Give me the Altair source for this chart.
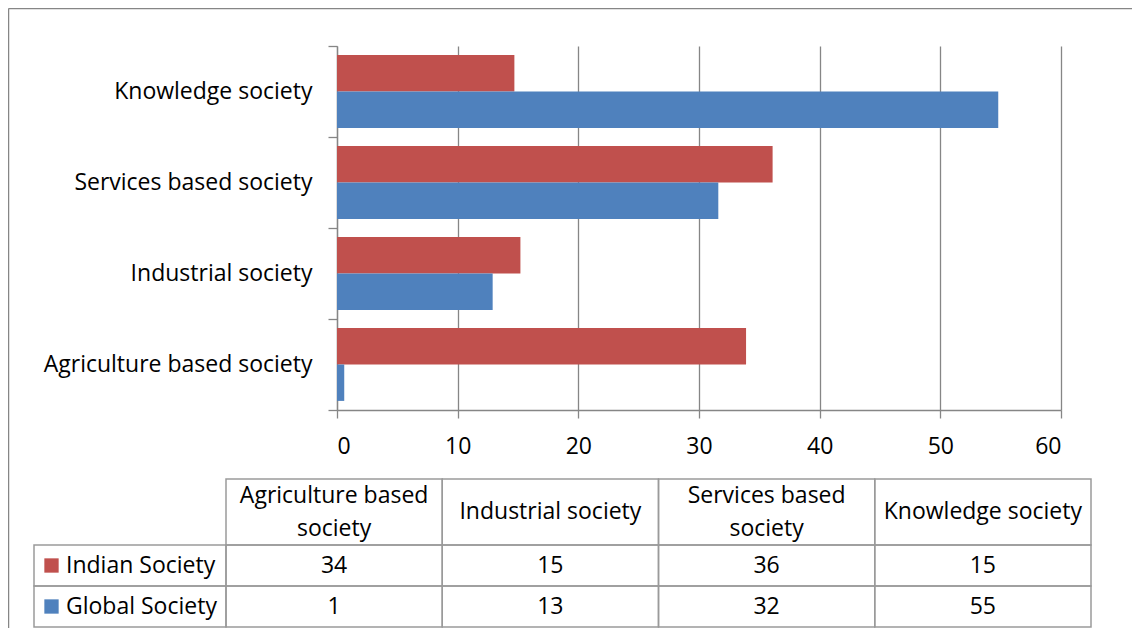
import altair as alt
import pandas as pd

categories = ["Agriculture based society", "Industrial society",
              "Services based society", "Knowledge society"]
header_labels = ["Agriculture based\nsociety", "Industrial society",
                 "Services based\nsociety", "Knowledge society"]
series = ["Indian Society", "Global Society"]
indian = [33.9, 15.2, 36.1, 14.7]
global_soc = [0.6, 12.9, 31.6, 54.8]
x_ticks = [0, 10, 20, 30, 40, 50, 60]
colors = ["#C0504D", "#4F81BD"]

FONT = "Open Sans"
FS = 23
GRID = "#868686"
TB = "#9a9a9a"

rows = []
for i, c in enumerate(categories):
    rows.append({"category": c, "series": series[0], "value": indian[i]})
    rows.append({"category": c, "series": series[1], "value": global_soc[i]})
df = pd.DataFrame(rows)
df_cat = pd.DataFrame({"category": categories, "header": header_labels})
df_ser = pd.DataFrame({"series": series})
df_one = pd.DataFrame({"a": [0]})

color_enc = alt.Color("series:N", sort=series,
                      scale=alt.Scale(domain=series, range=colors), legend=None)

bars = alt.Chart(df).mark_bar().encode(
    x=alt.X("value:Q", scale=alt.Scale(domain=[0, 60], nice=False, zero=True),
            axis=alt.Axis(values=x_ticks, title=None, grid=True, gridColor=GRID,
                          gridWidth=1.3, domainColor=GRID, domainWidth=1.3,
                          tickColor=GRID, tickWidth=1.3, tickSize=8,
                          labelPadding=17, labelFont=FONT, labelFontSize=FS,
                          labelColor="black")),
    y=alt.Y("category:N", sort=categories[::-1],
            scale=alt.Scale(paddingInner=0, paddingOuter=0),
            axis=alt.Axis(title=None, tickBand="extent", tickSize=9,
                          tickColor=GRID, tickWidth=1.3, domainColor=GRID,
                          domainWidth=1.3, labelPadding=16, labelFont=FONT,
                          labelFontSize=FS, labelColor="black", labelLimit=400)),
    yOffset=alt.YOffset("series:N", sort=series,
                        scale=alt.Scale(paddingInner=0, paddingOuter=0.25)),
    color=color_enc,
)

col_x = alt.X("category:N", sort=categories,
              scale=alt.Scale(domain=categories, range=[-111, 754],
                              paddingInner=0, paddingOuter=0),
              axis=None)
row_y = alt.Y("series:N", sort=series,
              scale=alt.Scale(domain=series, range=[499, 581],
                              paddingInner=0, paddingOuter=0),
              axis=None)

border_left = alt.Chart(df_one).mark_rule(color=GRID, strokeWidth=1.5).encode(
    x=alt.value(-328.5), y=alt.value(-37.5), y2=alt.value(600))
border_top = alt.Chart(df_one).mark_rule(color=GRID, strokeWidth=1.5).encode(
    x=alt.value(-328.5), x2=alt.value(800), y=alt.value(-37.5))

hdr_rect = alt.Chart(df_cat).mark_rect(filled=False, stroke=TB, strokeWidth=1.5).encode(
    x=col_x, y=alt.value(433), y2=alt.value(499))
hdr_text_two = alt.Chart(df_cat).transform_filter(
    "indexof(datum.header, '\\n') >= 0").mark_text(
    font=FONT, fontSize=FS, color="black", lineBreak="\n", lineHeight=33,
    align="center", baseline="middle").encode(
    x=col_x, y=alt.value(450), text="header:N")
hdr_text_one = alt.Chart(df_cat).transform_filter(
    "indexof(datum.header, '\\n') < 0").mark_text(
    font=FONT, fontSize=FS, color="black",
    align="center", baseline="middle").encode(
    x=col_x, y=alt.value(466), text="header:N")

cell_rect = alt.Chart(df).mark_rect(filled=False, stroke=TB, strokeWidth=1.5).encode(
    x=col_x, y=row_y)
cell_text = alt.Chart(df).mark_text(
    font=FONT, fontSize=FS, color="black", align="center", baseline="middle").encode(
    x=col_x, y=row_y, text=alt.Text("value:Q", format=".0f"))

lab_rect = alt.Chart(df_ser).mark_rect(filled=False, stroke=TB, strokeWidth=1.5).encode(
    x=alt.value(-303), x2=alt.value(-111), y=row_y)
lab_square = alt.Chart(df_ser).mark_square(size=205, opacity=1).encode(
    x=alt.value(-285.5), y=row_y, color=color_enc)
lab_text = alt.Chart(df_ser).mark_text(
    font=FONT, fontSize=FS, color="black", align="left", baseline="middle").encode(
    x=alt.value(-271), y=row_y, text="series:N")

chart = alt.layer(
    border_left, border_top, bars, hdr_rect, hdr_text_two, hdr_text_one,
    cell_rect, cell_text, lab_rect, lab_square, lab_text
).resolve_scale(x="independent", y="independent").properties(
    width=724, height=364,
    padding={"left": 329, "top": 38, "right": 71, "bottom": 218},
    autosize=alt.AutoSizeParams(type="none"),
).configure_view(stroke=None)

chart.save("out.html", embed_options={"renderer": "svg", "actions": False})
